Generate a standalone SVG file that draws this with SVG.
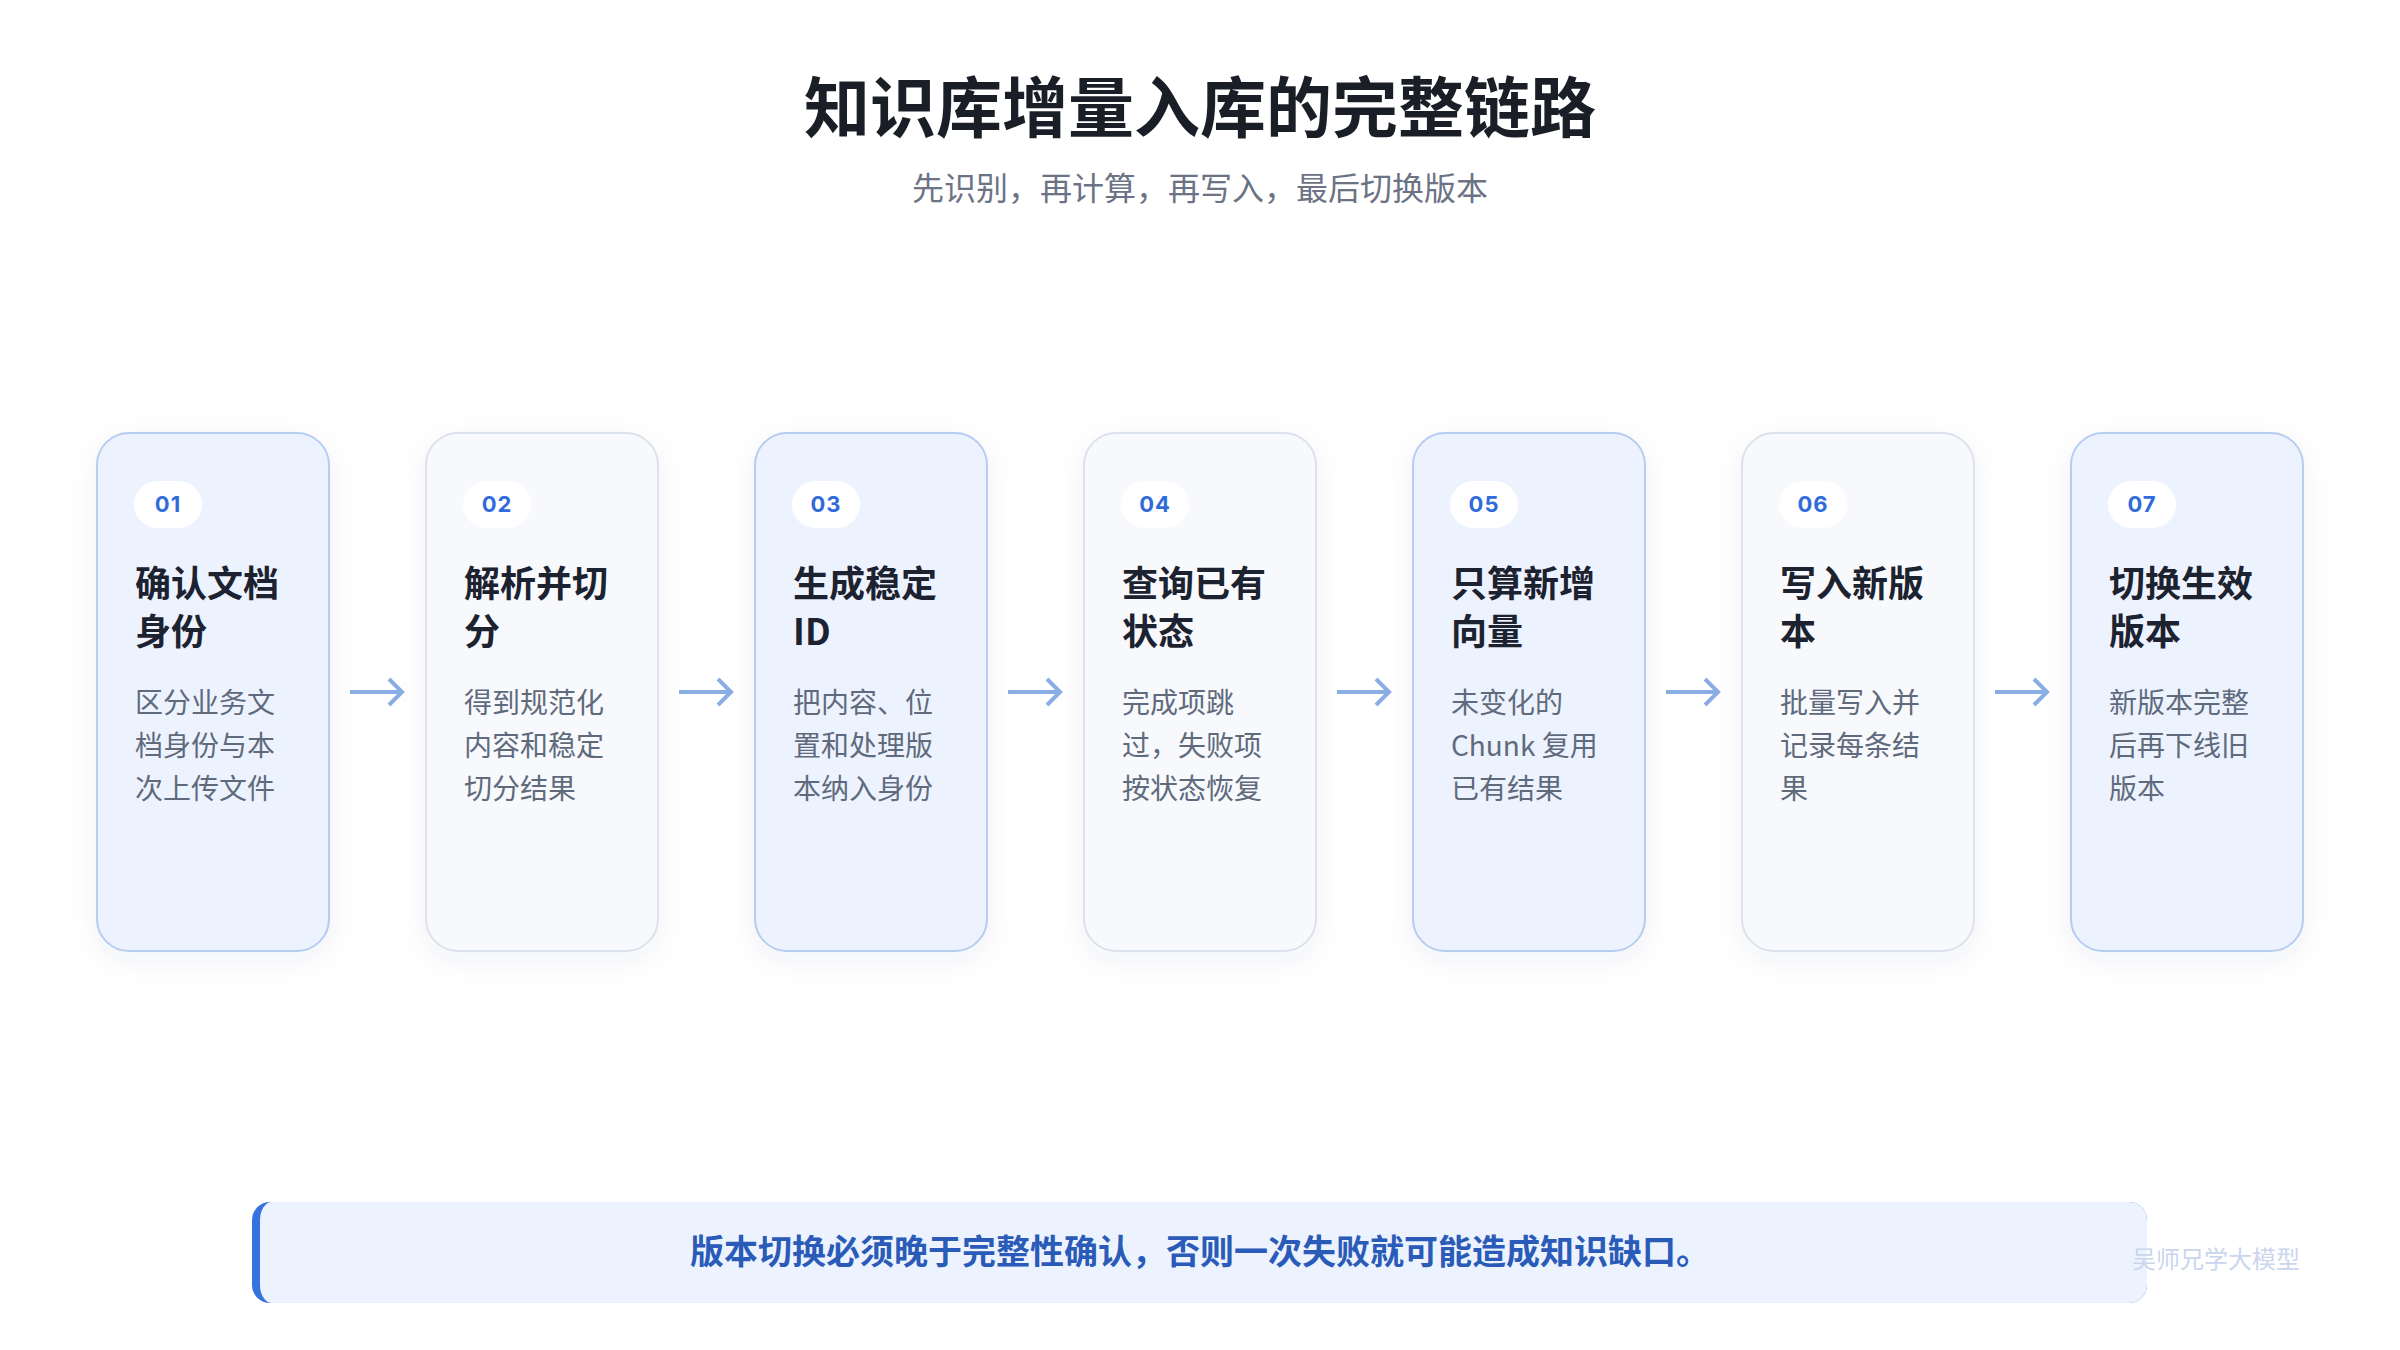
<svg xmlns="http://www.w3.org/2000/svg" width="2400" height="1350" viewBox="0 0 2400 1350">
<defs>
<style>
.cjk{font-family:"Noto Sans CJK SC","Noto Sans",sans-serif;}
.h1{font-size:66px;font-weight:700;fill:#1a1e27;}
.sub{font-size:32px;font-weight:400;fill:#6b7385;}
.cardA{fill:#edf3fe;stroke:#b6ccf1;stroke-width:2;}
.cardB{fill:#f7f9fc;stroke:#dbe2ec;stroke-width:2;}
.badge{fill:#ffffff;}
.num{font-family:Inter,"Noto Sans",sans-serif;font-size:22px;font-weight:700;fill:#2f6bdb;text-anchor:middle;letter-spacing:1px;}
.ttl{font-size:36px;font-weight:700;fill:#1c2230;}
.desc{font-size:28px;font-weight:400;fill:#5f6a7c;}
.arrow{stroke:#8aaee3;stroke-width:4;fill:none;stroke-linecap:butt;stroke-linejoin:miter;}
.note{font-size:34px;font-weight:700;fill:#2a5bb8;text-anchor:middle;}
.wm{font-size:24px;font-weight:400;fill:#c9d6ee;}
</style>
<filter id="sh" x="-30%" y="-20%" width="160%" height="140%">
<feDropShadow dx="0" dy="8" stdDeviation="14" flood-color="#1f3a6b" flood-opacity="0.06"/>
</filter>
</defs>
<rect width="2400" height="1350" fill="#ffffff"/>
<text class="cjk h1" x="1200" y="132" text-anchor="middle">知识库增量入库的完整链路</text>
<text class="cjk sub" x="1200" y="200" text-anchor="middle">先识别，再计算，再写入，最后切换版本</text>

<g id="connectors">
<g class="arrow">
<path d="M350 692 H402 M389 679 L402 692 L389 705"/>
<path d="M679 692 H731 M718 679 L731 692 L718 705"/>
<path d="M1008 692 H1060 M1047 679 L1060 692 L1047 705"/>
<path d="M1337 692 H1389 M1376 679 L1389 692 L1376 705"/>
<path d="M1666 692 H1718 M1705 679 L1718 692 L1705 705"/>
<path d="M1995 692 H2047 M2034 679 L2047 692 L2034 705"/>
</g>
</g>

<g id="step1">
<rect class="cardA" x="97" y="433" width="232" height="518" rx="32" filter="url(#sh)"/>
<rect class="badge" x="134" y="481" width="68" height="47" rx="23.5"/>
<text class="num" x="168" y="512">01</text>
<text class="cjk ttl"><tspan x="135" y="597">确认文档</tspan><tspan x="135" y="645">身份</tspan></text>
<text class="cjk desc"><tspan x="135" y="713">区分业务文</tspan><tspan x="135" y="756">档身份与本</tspan><tspan x="135" y="799">次上传文件</tspan></text>
</g>
<g id="step2">
<rect class="cardB" x="426" y="433" width="232" height="518" rx="32" filter="url(#sh)"/>
<rect class="badge" x="463" y="481" width="68" height="47" rx="23.5"/>
<text class="num" x="497" y="512">02</text>
<text class="cjk ttl"><tspan x="464" y="597">解析并切</tspan><tspan x="464" y="645">分</tspan></text>
<text class="cjk desc"><tspan x="464" y="713">得到规范化</tspan><tspan x="464" y="756">内容和稳定</tspan><tspan x="464" y="799">切分结果</tspan></text>
</g>
<g id="step3">
<rect class="cardA" x="755" y="433" width="232" height="518" rx="32" filter="url(#sh)"/>
<rect class="badge" x="792" y="481" width="68" height="47" rx="23.5"/>
<text class="num" x="826" y="512">03</text>
<text class="cjk ttl"><tspan x="793" y="597">生成稳定</tspan><tspan x="793" y="645">ID</tspan></text>
<text class="cjk desc"><tspan x="793" y="713">把内容、位</tspan><tspan x="793" y="756">置和处理版</tspan><tspan x="793" y="799">本纳入身份</tspan></text>
</g>
<g id="step4">
<rect class="cardB" x="1084" y="433" width="232" height="518" rx="32" filter="url(#sh)"/>
<rect class="badge" x="1121" y="481" width="68" height="47" rx="23.5"/>
<text class="num" x="1155" y="512">04</text>
<text class="cjk ttl"><tspan x="1122" y="597">查询已有</tspan><tspan x="1122" y="645">状态</tspan></text>
<text class="cjk desc"><tspan x="1122" y="713">完成项跳</tspan><tspan x="1122" y="756">过，失败项</tspan><tspan x="1122" y="799">按状态恢复</tspan></text>
</g>
<g id="step5">
<rect class="cardA" x="1413" y="433" width="232" height="518" rx="32" filter="url(#sh)"/>
<rect class="badge" x="1450" y="481" width="68" height="47" rx="23.5"/>
<text class="num" x="1484" y="512">05</text>
<text class="cjk ttl"><tspan x="1451" y="597">只算新增</tspan><tspan x="1451" y="645">向量</tspan></text>
<text class="cjk desc"><tspan x="1451" y="713">未变化的</tspan><tspan x="1451" y="756">Chunk 复用</tspan><tspan x="1451" y="799">已有结果</tspan></text>
</g>
<g id="step6">
<rect class="cardB" x="1742" y="433" width="232" height="518" rx="32" filter="url(#sh)"/>
<rect class="badge" x="1779" y="481" width="68" height="47" rx="23.5"/>
<text class="num" x="1813" y="512">06</text>
<text class="cjk ttl"><tspan x="1780" y="597">写入新版</tspan><tspan x="1780" y="645">本</tspan></text>
<text class="cjk desc"><tspan x="1780" y="713">批量写入并</tspan><tspan x="1780" y="756">记录每条结</tspan><tspan x="1780" y="799">果</tspan></text>
</g>
<g id="step7">
<rect class="cardA" x="2071" y="433" width="232" height="518" rx="32" filter="url(#sh)"/>
<rect class="badge" x="2108" y="481" width="68" height="47" rx="23.5"/>
<text class="num" x="2142" y="512">07</text>
<text class="cjk ttl"><tspan x="2109" y="597">切换生效</tspan><tspan x="2109" y="645">版本</tspan></text>
<text class="cjk desc"><tspan x="2109" y="713">新版本完整</tspan><tspan x="2109" y="756">后再下线旧</tspan><tspan x="2109" y="799">版本</tspan></text>
</g>

<g id="note">
<rect x="252" y="1202" width="1895" height="101" rx="18" fill="#3672e0"/>
<path d="M272 1202 H2129 A18 18 0 0 1 2147 1220 V1285 A18 18 0 0 1 2129 1303 H272 A12 18 0 0 1 260 1285 V1220 A12 18 0 0 1 272 1202 Z" fill="#edf3fe"/>
<text class="cjk note" x="1200" y="1264">版本切换必须晚于完整性确认，否则一次失败就可能造成知识缺口。</text>
</g>
<text class="cjk wm" x="2132" y="1268">吴师兄学大模型</text>
</svg>
